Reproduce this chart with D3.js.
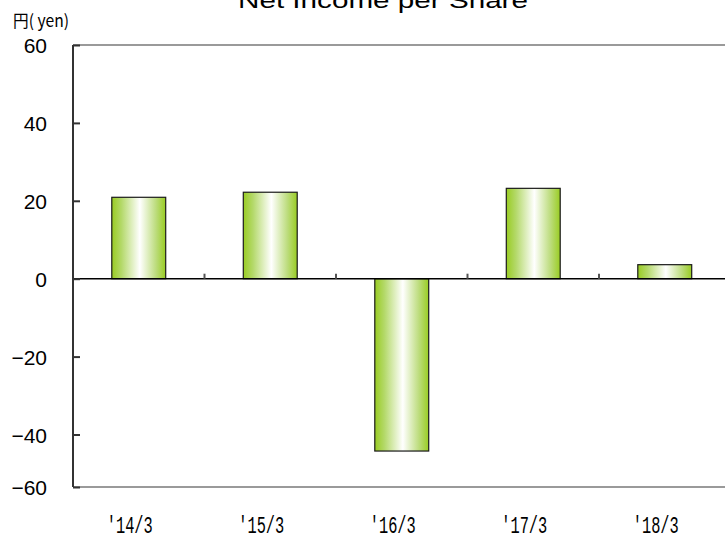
<!DOCTYPE html>
<html>
<head>
<meta charset="utf-8">
<script src="https://cdn.jsdelivr.net/npm/d3@7"></script>
<style>
  html, body { margin: 0; padding: 0; background: #fff; }
  svg { display: block; }
</style>
</head>
<body>
<svg id="chart" width="725" height="556"></svg>
<script>
// Fiscal years and net income per share (yen)
const categories = ["'14/3", "'15/3", "'16/3", "'17/3", "'18/3"];
const values = [20.9, 22.2, -46.3, 23.2, 3.6];
const yTicks = [60, 40, 20, 0, -20, -40, -60];
const titleText = "Net Income per Share";
const unitText = "円( yen)";

const svg = d3.select("#chart");
const width = 725;
const margin = { left: 73 };
const plotRight = 730.5;

const x = d3.scaleBand()
  .domain(categories)
  .range([margin.left, plotRight])
  .paddingInner(0.59)
  .paddingOuter(0.295);

// Value axis; the lowest interval is drawn shorter than the others
const y = d3.scaleLinear()
  .domain([-60, -40, 60])
  .range([487, 434.5, 45]);

// Horizontal green-white-green gradient for the bars
const defs = svg.append("defs");
const grad = defs.append("linearGradient")
  .attr("id", "barGrad")
  .attr("x1", "0%").attr("x2", "100%").attr("y1", "0%").attr("y2", "0%");
[["0%", "#99cc22"], ["18%", "#b4d96a"], ["52%", "#ffffff"], ["82%", "#bcdc7c"], ["100%", "#99cc22"]]
  .forEach(([o, c]) => grad.append("stop").attr("offset", o).attr("stop-color", c));

// Top and bottom frame lines
[60, -60].forEach(v => {
  svg.append("line")
    .attr("x1", margin.left).attr("x2", width)
    .attr("y1", y(v)).attr("y2", y(v))
    .attr("stroke", "#9a9a9a").attr("stroke-width", 2);
});

// Bars
svg.append("g")
  .selectAll("rect")
  .data(values)
  .join("rect")
  .attr("x", (d, i) => x(categories[i]))
  .attr("width", x.bandwidth())
  .attr("y", d => y(Math.max(0, d)))
  .attr("height", d => Math.abs(y(d) - y(0)))
  .attr("fill", "url(#barGrad)")
  .attr("stroke", "#1a1a1a")
  .attr("stroke-width", 1.2);

// Zero baseline with category separator ticks
svg.append("line")
  .attr("x1", margin.left).attr("x2", width)
  .attr("y1", y(0)).attr("y2", y(0))
  .attr("stroke", "#000").attr("stroke-width", 1.5);

const step = x.step();
const sepGroup = svg.append("g");
categories.slice(1).forEach(c => {
  const sx = x(c) - x.paddingInner() * step / 2;
  sepGroup.append("line")
    .attr("x1", sx).attr("x2", sx)
    .attr("y1", y(0)).attr("y2", y(0) - 5)
    .attr("stroke", "#555").attr("stroke-width", 2);
});

// Y axis
const yAxis = d3.axisRight(y)
  .tickValues(yTicks)
  .tickSize(7)
  .tickFormat(d => d < 0 ? "\u2212" + Math.abs(d) : d);

const yg = svg.append("g")
  .attr("transform", `translate(${margin.left},0)`)
  .call(yAxis);
yg.select(".domain").attr("stroke", "#333").attr("stroke-width", 2)
  .attr("d", `M0,${y(60)}V${y(-60)}`);
yg.selectAll(".tick line").attr("stroke", "#333").attr("stroke-width", 2);
yg.selectAll(".tick text")
  .attr("x", -26)
  .attr("text-anchor", "end")
  .attr("dy", "0.36em")
  .attr("font-family", "'Liberation Sans', Arial, sans-serif")
  .attr("font-size", 21)
  .attr("fill", "#000");

// X labels
svg.append("g")
  .selectAll("text")
  .data(categories)
  .join("text")
  .attr("x", d => x(d) + x.bandwidth() / 2 - 9)
  .attr("y", 533)
  .attr("text-anchor", "middle")
  .attr("font-family", "'Liberation Mono', monospace")
  .attr("font-size", 24)
  .attr("textLength", 46)
  .attr("lengthAdjust", "spacingAndGlyphs")
  .attr("fill", "#000")
  .text(d => d);

// Title and unit
svg.append("text")
  .attr("x", 383)
  .attr("y", 8)
  .attr("text-anchor", "middle")
  .attr("font-family", "'Liberation Sans', Arial, sans-serif")
  .attr("font-size", 22)
  .attr("textLength", 290)
  .attr("lengthAdjust", "spacingAndGlyphs")
  .attr("fill", "#000")
  .text(titleText);

svg.append("text")
  .attr("x", 13)
  .attr("y", 27)
  .attr("font-family", "'Noto Sans CJK JP', sans-serif")
  .attr("font-size", 17)
  .attr("textLength", 56)
  .attr("lengthAdjust", "spacingAndGlyphs")
  .attr("fill", "#000")
  .text(unitText);
</script>
</body>
</html>
